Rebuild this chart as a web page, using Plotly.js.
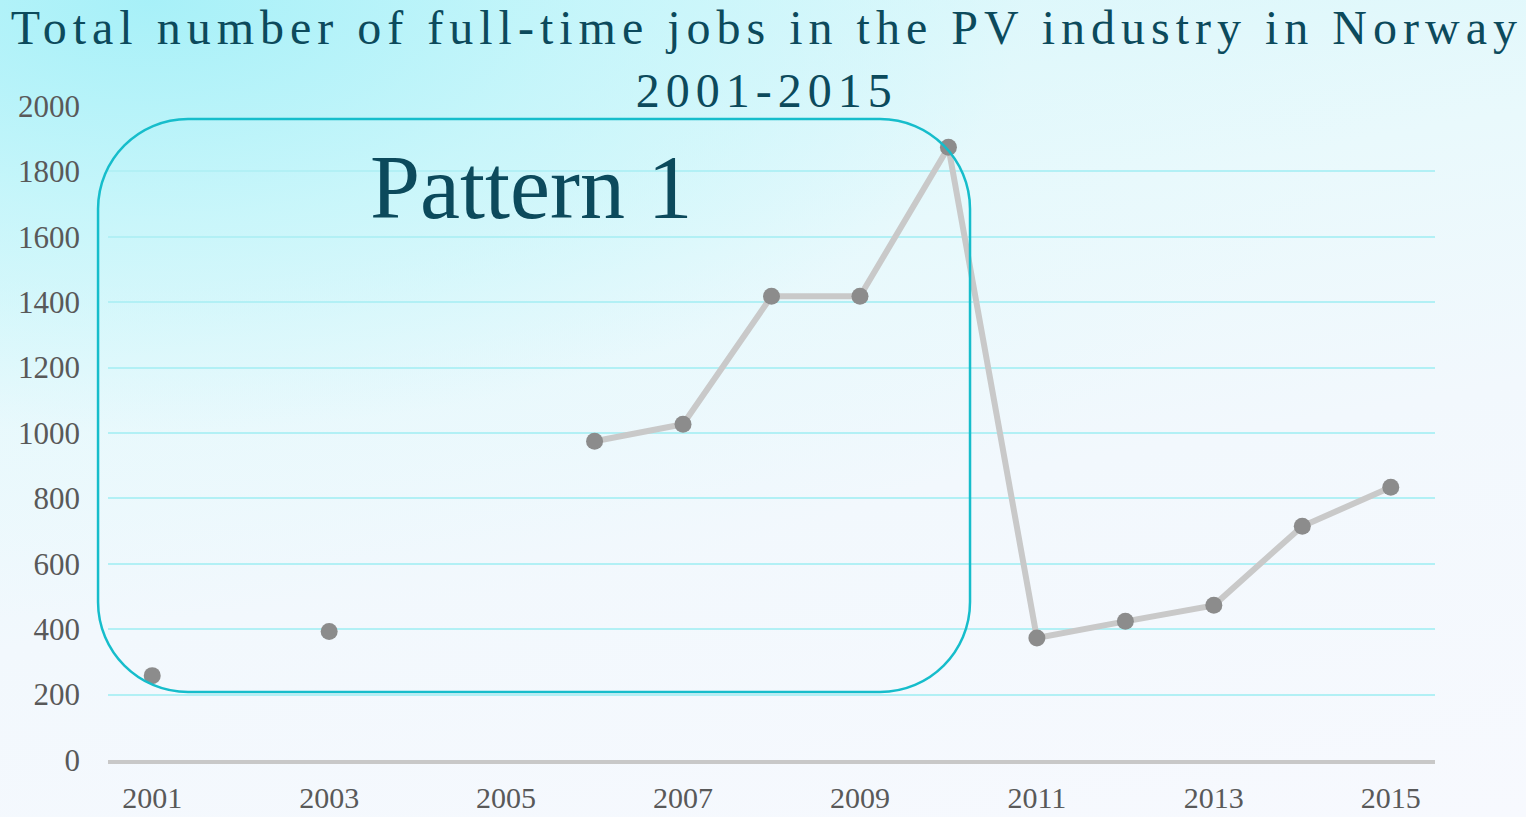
<!DOCTYPE html>
<html>
<head>
<meta charset="utf-8">
<script src="https://cdn.plot.ly/plotly-3.0.1.min.js"></script>
<style>
  html, body { margin: 0; padding: 0; width: 1526px; height: 817px; overflow: hidden; }
  body {
    background:
      radial-gradient(ellipse 1250px 620px at 150px 0px, rgba(165,240,248,0.95) 0%, rgba(190,245,250,0.7) 35%, rgba(225,248,252,0.25) 70%, rgba(240,250,253,0) 100%),
      linear-gradient(170deg, #d2f6fa 0%, #e9f9fc 35%, #f2f8fd 60%, #f7f9fe 100%);
  }
  #chart { width: 1526px; height: 817px; }
  .gtitle { letter-spacing: 6px; }
</style>
</head>
<body>
<div id="chart"></div>
<script>
// ---- data ----
const years = [2001, 2002, 2003, 2004, 2005, 2006, 2007, 2008, 2009, 2010, 2011, 2012, 2013, 2014, 2015];
const jobs  = [258, null, 393, null, null, 975, 1027, 1418, 1418, 1874, 373, 424, 473, 715, 834];
const xTickYears = [2001, 2003, 2005, 2007, 2009, 2011, 2013, 2015];
const chartTitle = "Total number of full-time jobs in the PV industry in Norway<br>2001-2015";
const patternLabel = "Pattern 1";

// ---- rounded rectangle (paper coordinates) ----
const x0 = -0.0075, x1 = 0.6496, y0 = 0.104, y1 = 0.9801;
const rx = 90 / 1327, ry = 90 / 654, k = 0.5523;
const f = v => v.toFixed(5);
const rectPath =
  `M ${f(x0 + rx)},${f(y1)} L ${f(x1 - rx)},${f(y1)} ` +
  `C ${f(x1 - rx + k * rx)},${f(y1)} ${f(x1)},${f(y1 - ry + k * ry)} ${f(x1)},${f(y1 - ry)} ` +
  `L ${f(x1)},${f(y0 + ry)} ` +
  `C ${f(x1)},${f(y0 + ry - k * ry)} ${f(x1 - rx + k * rx)},${f(y0)} ${f(x1 - rx)},${f(y0)} ` +
  `L ${f(x0 + rx)},${f(y0)} ` +
  `C ${f(x0 + rx - k * rx)},${f(y0)} ${f(x0)},${f(y0 + ry - k * ry)} ${f(x0)},${f(y0 + ry)} ` +
  `L ${f(x0)},${f(y1 - ry)} ` +
  `C ${f(x0)},${f(y1 - ry + k * ry)} ${f(x0 + rx - k * rx)},${f(y1)} ${f(x0 + rx)},${f(y1)} Z`;

const serif = 'Liberation Serif, Times New Roman, serif';

const trace = {
  x: years,
  y: jobs,
  type: 'scatter',
  mode: 'lines+markers',
  connectgaps: false,
  line: { color: '#c9c9c9', width: 6 },
  marker: { color: '#8c8c8c', size: 17 },
  hoverinfo: 'x+y'
};

const layout = {
  width: 1526,
  height: 817,
  paper_bgcolor: 'rgba(0,0,0,0)',
  plot_bgcolor: 'rgba(0,0,0,0)',
  margin: { l: 108, r: 91, t: 106, b: 57, pad: 0 },
  showlegend: false,
  title: {
    text: chartTitle,
    font: { family: serif, size: 48, color: '#0c4a5c' },
    x: 0.4965,
    xanchor: 'center',
    xref: 'paper',
    y: 0.946,
    yref: 'container',
    yanchor: 'top',
    pad: { t: 0, b: 0 }
  },
  xaxis: {
    range: [2000.5, 2015.5],
    tickvals: xTickYears,
    ticktext: xTickYears.map(String),
    showgrid: false,
    zeroline: false,
    showline: true,
    linecolor: '#c8c8c8',
    linewidth: 4,
    ticks: '',
    ticklabelstandoff: 8,
    tickfont: { family: serif, size: 30, color: '#595959' },
    fixedrange: true
  },
  yaxis: {
    range: [0, 2000],
    dtick: 200,
    tick0: 0,
    showgrid: true,
    gridcolor: '#b2f0f5',
    gridwidth: 1.5,
    zeroline: false,
    showline: false,
    ticks: '',
    ticklabelstandoff: 27,
    tickfont: { family: serif, size: 31, color: '#595959' },
    fixedrange: true
  },
  shapes: [{
    type: 'path',
    xref: 'paper',
    yref: 'paper',
    path: rectPath,
    line: { color: '#16bdcb', width: 2.5 },
    fillcolor: 'rgba(0,0,0,0)',
    layer: 'above'
  }],
  annotations: [{
    text: patternLabel,
    xref: 'paper',
    yref: 'paper',
    x: 0.3188,
    y: 0.875,
    xanchor: 'center',
    yanchor: 'middle',
    showarrow: false,
    font: { family: serif, size: 90, color: '#0c4a5c' }
  }]
};

Plotly.newPlot('chart', [trace], layout, { displayModeBar: false });
</script>
</body>
</html>
